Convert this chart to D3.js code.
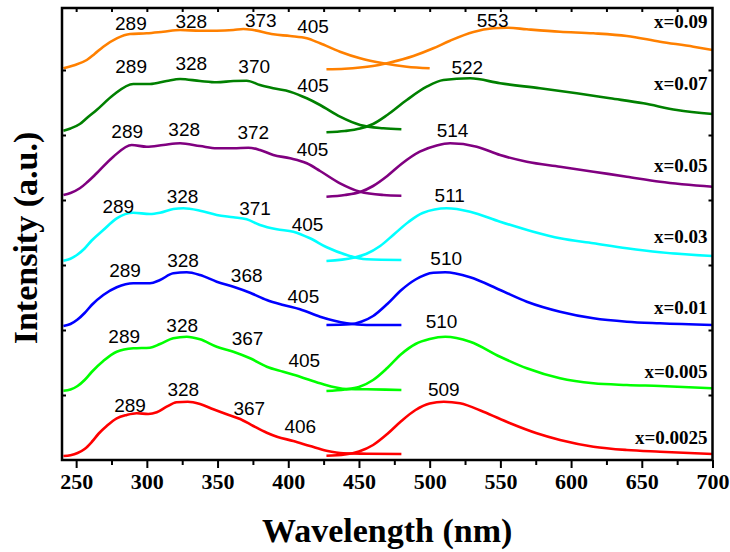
<!DOCTYPE html>
<html>
<head>
<meta charset="utf-8">
<script src="https://cdn.jsdelivr.net/npm/d3@7"></script>
<style>
  body { margin: 0; background: #fff; }
  .tick text { font-family: "Liberation Serif", "Times New Roman", serif; font-weight: bold; }
</style>
</head>
<body>
<div class="chart"></div>
<script>
// series, bottom to top
var seriesNames = ["x=0.0025", "x=0.005", "x=0.01", "x=0.03", "x=0.05", "x=0.07", "x=0.09"];
var seriesColors = ["#ff0000", "#00ff00", "#0000ff", "#00ffff", "#800080", "#008000", "#ff8000"];
var offsets = [0, 65, 130, 195, 260, 325, 390];   // stacking offset (a.u.)
var xTicks = [250, 300, 350, 400, 450, 500, 550, 600, 650, 700];

// excitation spectra [wavelength, intensity]
var exc0025 = [[241,4],[246,4.8],[251,7],[256,11],[261,18],[266,26.5],[271.6,34],[278.7,41.7],[285.8,45],[292.8,46.7],[301,46],[307,47.7],[314,53.3],[321,57.7],[329,58.3],[337.6,56],[347,50.7],[356.5,45.7],[366,41],[375.3,34],[384.8,27.3],[392,23.3],[403.6,19],[415.4,14],[427,9.3],[439,6.7],[455.5,6.3],[480,6]];
var exc005 = [[241,4.3],[246,5.5],[251,9],[256,15],[261,23],[269.2,34],[278.7,43.3],[290.4,46.7],[302.2,47.3],[309.3,51],[318.7,56.7],[328.2,58.3],[337.6,55.7],[349.4,48.3],[361.2,43.3],[373,36.7],[384.8,28.3],[396.5,23.3],[408.3,18.3],[422.5,11.7],[441.4,6],[455.5,5.7],[480,5]];
var exc001 = [[241,4],[246,6],[251,10.5],[256,17],[261,25],[269.2,35],[278.7,42.7],[290.4,46.7],[302.2,46.7],[309.3,50],[318.7,56.7],[328.2,57.7],[337.6,55],[349.4,48.3],[361.2,43.3],[373,37.3],[384.8,30],[396.5,25],[408.3,20.7],[422.5,13.3],[441.4,6.7],[455.5,5],[480,5]];
var exc003 = [[241,4.3],[246,6.3],[251,10.5],[256,16.5],[261,24.5],[269.2,35],[278.7,46.7],[290.4,52.3],[302.2,51],[309.3,52.3],[318.7,56],[325.8,56.7],[337.6,54.3],[349.4,50],[361.2,47.7],[370.6,45.7],[380,40],[391.9,35.7],[403.6,33.3],[415.4,26.7],[427.2,17.7],[441.4,10],[455.5,5.7],[480,5]];
var exc005b = [[241,5],[246,7],[252.6,11.7],[258,18],[264.5,26.7],[276.3,43.3],[289.3,55],[299.9,53.3],[311.6,55],[323.5,56.7],[337.6,54],[349.4,51.7],[361.2,51.7],[371.8,52.3],[380,50],[389.4,45],[401.3,41.7],[413.1,36.7],[422.5,29],[436.6,16.7],[450.8,8.3],[467.3,5],[480,4.3]];
var exc007 = [[241,4.3],[246,6.5],[252.6,11],[258,17.5],[264.5,25],[276.3,40],[290.4,51],[302.2,51],[314,54],[323.5,56],[337.6,54],[349.4,52.7],[361.2,54],[370.6,54.3],[380,50],[389.4,46.7],[401.3,43.3],[413.1,36.7],[422.5,30],[436.6,18.3],[450.8,10],[467.3,6.7],[480,5.7]];
var exc009 = [[241,1.7],[248,4.5],[257.5,10],[263,16],[269.2,23.3],[278.7,31.7],[288.1,36],[299.9,36.7],[311.6,38.3],[323.5,40],[337.6,39.3],[349.4,39.3],[361.2,40],[368.2,41],[375.3,40],[389.4,35.7],[401.3,34],[413.1,31.7],[422.5,26.7],[436.6,18.3],[450.8,11.7],[467.3,6.7],[483.8,3.3],[500,1.7]];

// emission spectra [wavelength, intensity]
var em0025 = [[427,4.3],[440,5.5],[450,8.5],[460,15],[470,26],[480,39],[490,50],[500,56.5],[510,58.3],[521.5,56.7],[538,48.3],[556.9,36.7],[575.7,26.7],[592.2,20],[615.8,13.3],[639.4,10],[662.9,8.3],[700,6]];
var em005 = [[427,4],[440,5.5],[450,8],[460,15],[470,27],[480,41],[490,51],[500,56],[511,58.3],[528.6,53.3],[549.8,38.3],[568.7,26.7],[592.2,16.7],[615.8,11.7],[639.4,10],[662.9,9],[700,6.7]];
var em001 = [[427,5],[443.7,5.7],[452,8.5],[460,14],[470,26],[480,40],[490,50.5],[502.6,57.3],[511,57.7],[528.6,52.7],[549.8,40],[568.7,28.3],[592.2,18.3],[615.8,11.7],[639.4,8.3],[662.9,6.7],[700,5]];
var em003 = [[427,4],[446,7.3],[455,11],[465,19],[475,31],[485,43],[495,52],[512,56.7],[528.6,53.3],[549.8,43.3],[573.3,33.3],[592.2,26.7],[615.8,21.7],[639.4,16.7],[662.9,12.7],[700,9]];
var em005b = [[427,3.3],[440,5],[450.8,8],[460,14],[470,24],[480,36],[493,48.3],[505,54.5],[514.4,56.7],[533.3,53.3],[549.8,45],[568.7,38.3],[592.2,33.3],[615.8,28.3],[639.4,23.3],[662.9,18.3],[700,13.3]];
var em007 = [[427,2.7],[440,4],[450.8,6.5],[460,11],[470,20],[483.8,35],[497.9,48.3],[509.7,55],[528.6,56.7],[549.8,51.7],[578,46.7],[604,41.7],[627.6,36.7],[651.1,31.7],[674.8,25],[700,21]];
var em009 = [[427,0.7],[440,1.3],[450.8,2.5],[462,4.5],[472,7.5],[488.5,14],[502.6,21.7],[514.4,29.3],[530.9,38],[545,41.7],[554.5,42.3],[568.7,40.7],[592.2,38.3],[615.8,36.7],[639.4,34],[662.9,28.3],[686.5,23.3],[700,20]];

// peak labels [text, wavelength, intensity]
var peaks0025 = [["289",288.1,47.7],["328",325.8,64.3],["367",372.4,45],["406",408.5,26.7],["509",510,64.3]];
var peaks005 = [["289",284,51.7],["328",325,63.3],["367",371.2,50],["405",411.3,28.3],["510",508.4,66.7]];
var peaks001 = [["289",284.6,52.7],["328",325.6,63.3],["368",370.6,48.3],["405",410.7,26.7],["510",511.7,65]];
var peaks003 = [["289",279.8,51.7],["328",325.2,61.7],["371",376.5,50],["405",413.6,34.3],["511",514.2,63.3]];
var peaks005b = [["289",286.1,61.7],["328",326.4,64],["372",375.3,60.7],["405",417.2,44.3],["514",516.2,63.3]];
var peaks007 = [["289",288.9,61.7],["328",331.4,65],["370",375.9,61.7],["405",417.5,43.3],["522",526.6,61]];
var peaks009 = [["289",288.7,40],["328",331.4,41.7],["373",380.6,42.7],["405",417.5,36.7],["553",544.5,43.3]];

// legend label heights (a.u. above each baseline)
var nameLevels = [16, 16.7, 16, 21.7, 28.3, 45, 41.7];

var excitation = [exc0025, exc005, exc001, exc003, exc005b, exc007, exc009];
var emission = [em0025, em005, em001, em003, em005b, em007, em009];
var peakLabels = [peaks0025, peaks005, peaks001, peaks003, peaks005b, peaks007, peaks009];

var svgWidth = 730, svgHeight = 552;
var margin = {top: 8, right: 17.5, bottom: 92, left: 62};
var width = svgWidth - margin.left - margin.right;
var height = svgHeight - margin.top - margin.bottom;

var svg = d3.select(".chart").append("svg")
  .attr("width", svgWidth)
  .attr("height", svgHeight)
  .append("g")
  .attr("transform", "translate(" + margin.left + "," + margin.top + ")");

var x = d3.scaleLinear().domain([240, 700]).range([0, width]);
var y = d3.scaleLinear().domain([0, 452]).range([height, 0]);

var line = d3.line()
  .x(function(d) { return x(d[0]); })
  .y(function(d) { return y(d[1]); })
  .curve(d3.curveMonotoneX);

seriesNames.forEach(function(name, i) {
  [excitation[i], emission[i]].forEach(function(part) {
    svg.append("path")
      .datum(part.map(function(d) { return [d[0], d[1] + offsets[i]]; }))
      .attr("fill", "none")
      .attr("stroke", seriesColors[i])
      .attr("stroke-width", 2.6)
      .attr("d", line);
  });

  svg.append("g").selectAll("text")
    .data(peakLabels[i])
    .enter()
    .append("text")
    .attr("x", function(d) { return x(d[1]); })
    .attr("y", function(d) { return y(d[2] + offsets[i]); })
    .attr("text-anchor", "middle")
    .style("font-family", "'Liberation Sans', Arial, sans-serif")
    .style("font-size", "19px")
    .text(function(d) { return d[0]; });

  svg.append("text")
    .attr("x", width - 5)
    .attr("y", y(nameLevels[i] + offsets[i]))
    .attr("text-anchor", "end")
    .style("font-family", "'Liberation Serif', 'Times New Roman', serif")
    .style("font-weight", "bold")
    .style("font-size", "19px")
    .text(name);
});

// axes
var bottomAxis = d3.axisBottom(x).tickValues(xTicks).tickSize(8).tickPadding(5).tickSizeOuter(0);
svg.append("g")
  .attr("transform", "translate(0," + height + ")")
  .call(bottomAxis)
  .call(function(g) { g.select(".domain").remove(); })
  .selectAll("text").style("font-size", "22px");

svg.append("g")
  .attr("transform", "translate(0," + height + ")")
  .call(d3.axisBottom(x).tickValues(d3.range(275, 700, 50)).tickSize(5).tickFormat(""))
  .call(function(g) { g.select(".domain").remove(); });

svg.append("g")
  .call(d3.axisBottom(x).tickValues(d3.range(250, 700, 25)).tickSize(4).tickFormat(""))
  .call(function(g) { g.select(".domain").remove(); });

svg.append("g")
  .call(d3.axisRight(y).tickValues(offsets.slice(1)).tickSize(4).tickFormat(""))
  .call(function(g) { g.select(".domain").remove(); });
svg.append("g")
  .attr("transform", "translate(" + width + ",0)")
  .call(d3.axisLeft(y).tickValues(offsets.slice(1)).tickSize(4).tickFormat(""))
  .call(function(g) { g.select(".domain").remove(); });

svg.selectAll(".tick line").attr("stroke-width", 2);

svg.append("rect")
  .attr("width", width)
  .attr("height", height)
  .attr("fill", "none")
  .attr("stroke", "#000")
  .attr("stroke-width", 2.5);

// axis titles
svg.append("text")
  .attr("x", width / 2)
  .attr("y", height + 82)
  .attr("text-anchor", "middle")
  .style("font-family", "'Liberation Serif', 'Times New Roman', serif")
  .style("font-weight", "bold")
  .style("font-size", "34px")
  .text("Wavelength (nm)");

svg.append("text")
  .attr("transform", "translate(" + (37 - margin.left) + "," + (238 - margin.top) + ") rotate(-90)")
  .attr("text-anchor", "middle")
  .style("font-family", "'Liberation Serif', 'Times New Roman', serif")
  .style("font-weight", "bold")
  .style("font-size", "34px")
  .text("Intensity (a.u.)");
</script>
</body>
</html>
